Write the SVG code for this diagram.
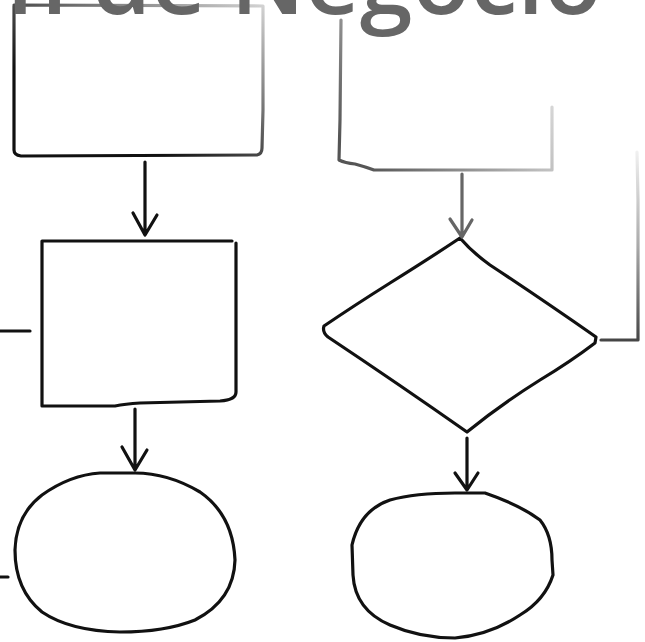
<svg xmlns="http://www.w3.org/2000/svg" width="645" height="642" viewBox="0 0 645 642">
  <defs>
    <linearGradient id="gTopLeft" gradientUnits="userSpaceOnUse" x1="265" y1="0" x2="170" y2="160">
      <stop offset="0" stop-color="#d8d8d8"/>
      <stop offset="0.5" stop-color="#777"/>
      <stop offset="1" stop-color="#111"/>
    </linearGradient>
    <linearGradient id="gTopRight" gradientUnits="userSpaceOnUse" x1="560" y1="20" x2="370" y2="175">
      <stop offset="0" stop-color="#f4f4f4"/>
      <stop offset="0.45" stop-color="#bdbdbd"/>
      <stop offset="1" stop-color="#555"/>
    </linearGradient>
    <linearGradient id="gLoop" gradientUnits="userSpaceOnUse" x1="0" y1="150" x2="0" y2="342">
      <stop offset="0" stop-color="#f2f2f2"/>
      <stop offset="0.5" stop-color="#aaa"/>
      <stop offset="1" stop-color="#444"/>
    </linearGradient>
  </defs>
  <style>
    .ln { fill: none; stroke-width: 3.2; stroke-linecap: round; stroke-linejoin: round; }
    .k { stroke: #111; }
    .g6 { stroke: #666; }
    .tl { stroke: url(#gTopLeft); }
    .tr { stroke: url(#gTopRight); }
    .lp { stroke: url(#gLoop); }
    .title { font-family: "Open Sans", "Noto Sans", "Liberation Sans", sans-serif; font-size: 95px; font-weight: 600; fill: #666; }
  </style>

  <g id="node-box-top-left">
    <path class="ln tl" d="M14,6 L14,150 Q14,155 21,156 L257,155 Q262,154 262,148 L263,110 L263,6 L14,5"/>
  </g>

  <g id="node-box-top-right">
    <path class="ln tr" d="M341,20 L340,120 L339,160 Q345,163 355,164 Q366,167 374,170 L552,170 L552,107"/>
  </g>

  <g id="node-box-middle">
    <path class="ln k" d="M232,241 L42,241 L42,406 L115,406 Q125,404 140,403 L220,401 Q236,400 236,392 L236,243"/>
  </g>

  <g id="node-diamond">
    <path class="ln k" d="M460,238 Q430,258 390,283 Q355,305 324,326 Q322,332 328,337 Q400,385 467,432 Q500,405 540,380 Q570,362 595,343 L596,337 Q540,298 490,265 Q472,252 460,238 Z"/>
  </g>

  <g id="node-ellipse-left">
    <path class="ln k" d="M135,473 Q168,473 200,492 Q233,515 235,560 Q234,600 195,620 Q165,632 120,632 Q70,631 42,612 Q15,590 15,550 Q16,515 42,495 Q70,475 100,473 Z"/>
  </g>

  <g id="node-ellipse-right">
    <path class="ln k" d="M485,493 Q520,505 540,520 Q552,535 552,560 L553,575 Q545,600 520,615 Q490,635 455,638 Q420,638 390,625 Q355,610 353,575 L352,545 Q360,510 390,500 Q415,493 455,493 Z"/>
  </g>

  <g id="connectors">
    <path class="ln k" d="M145,162 L145,234 M133,213 L145,235 L157,215"/>
    <path class="ln g6" d="M462,174 L462,236 M450,219 L462,237 L472,220"/>
    <path class="ln k" d="M135,409 L135,469 M122,447 L135,470 L147,450"/>
    <path class="ln k" d="M467,438 L467,489 M455,473 L467,490 L478,473"/>
    <path class="ln lp" d="M601,340 L638,340 L638,200 L637,152"/>
    <path class="ln k" d="M0,331 L30,331"/>
    <path class="ln k" d="M0,577 L8,577"/>
  </g>

  <g id="title">
    <text class="title" x="602" y="14" text-anchor="end">Plan de Negocio</text>
  </g>
</svg>
